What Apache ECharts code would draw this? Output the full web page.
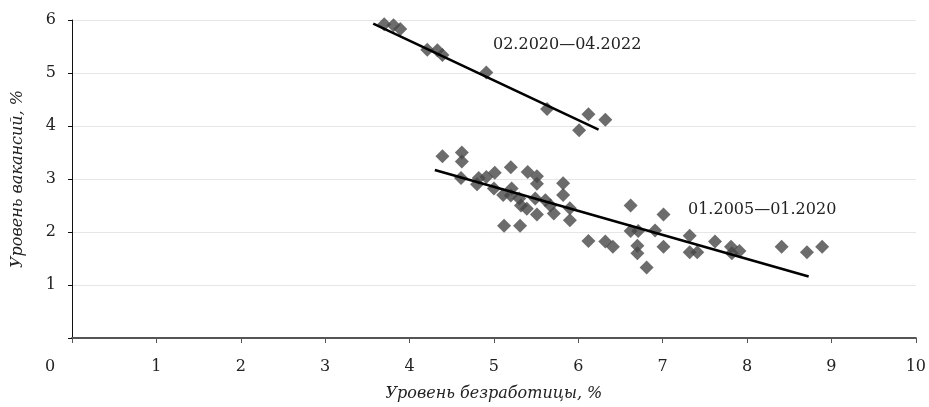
<!DOCTYPE html>
<html>
<head>
<meta charset="utf-8">
<script src="https://cdn.jsdelivr.net/npm/echarts@6/dist/echarts.min.js"></script>
<style>
  html, body { margin: 0; padding: 0; background: #fff; }
  #chart { width: 929px; height: 407px; }
</style>
</head>
<body>
<div id="chart"></div>
<script>
// 01.2005 - 01.2020: unemployment (x) and vacancy (y) rates, %
const unemp0520 = [4.39, 4.62, 4.62, 4.61, 4.82, 4.80, 4.91, 5.01, 5.00, 5.20, 5.11, 5.21, 5.20,
  5.40, 5.51, 5.51, 5.30, 5.32, 5.39, 5.51, 5.49, 5.61, 5.67, 5.71, 5.82, 5.82, 5.90, 5.90,
  5.12, 5.31, 6.12, 6.32, 6.41, 6.62, 6.62, 6.71, 6.70, 6.70, 6.81, 7.01, 6.91, 7.01,
  7.32, 7.32, 7.41, 7.62, 7.81, 7.82, 7.91, 8.41, 8.71, 8.89];
const vac0520 = [3.43, 3.50, 3.33, 3.02, 3.02, 2.90, 3.04, 3.12, 2.82, 3.22, 2.70, 2.82, 2.69,
  3.13, 3.05, 2.91, 2.63, 2.50, 2.44, 2.33, 2.63, 2.60, 2.50, 2.35, 2.92, 2.70, 2.45, 2.22,
  2.12, 2.12, 1.83, 1.82, 1.72, 2.50, 2.02, 2.02, 1.74, 1.60, 1.33, 2.33, 2.03, 1.72,
  1.93, 1.62, 1.62, 1.82, 1.72, 1.60, 1.64, 1.72, 1.62, 1.72];

// 02.2020 - 04.2022
const unemp2022 = [3.70, 3.81, 3.89, 4.21, 4.33, 4.39, 4.91, 5.63, 6.12, 6.01, 6.32];
const vac2022 = [5.92, 5.90, 5.83, 5.44, 5.43, 5.34, 5.01, 4.32, 4.22, 3.92, 4.12];

// trend line end points
const trend0520X = [4.30, 8.73];
const trend0520Y = [3.17, 1.16];
const trend2022X = [3.57, 6.24];
const trend2022Y = [5.93, 3.93];

const label0520 = '01.2005—01.2020';
const label2022 = '02.2020—04.2022';
const xName = 'Уровень безработицы, %';
const yName = 'Уровень вакансий, %';

const zip = (xs, ys) => xs.map((x, i) => [x, ys[i]]);
const font = '"DejaVu Serif", "Liberation Serif", serif';
const markColor = '#474747';

const chart = echarts.init(document.getElementById('chart'));
chart.setOption({
  animation: false,
  backgroundColor: '#fff',
  textStyle: { fontFamily: font, color: '#222' },
  grid: { left: 72, right: 13, top: 20, bottom: 67 },
  xAxis: {
    type: 'value', min: 0, max: 10, interval: 1,
    name: xName, nameLocation: 'middle', nameGap: 48,
    nameTextStyle: { fontFamily: font, fontStyle: 'italic', fontSize: 16, color: '#222' },
    axisLine: { show: true, lineStyle: { color: '#555', width: 2 } },
    axisTick: { show: true, length: 5, lineStyle: { color: '#555' } },
    axisLabel: {
      margin: 21, fontSize: 16, color: '#222', fontFamily: font,
      formatter: v => (v === 0 ? '{z|0}' : String(v)),
      rich: { z: { fontSize: 16, fontFamily: font, color: '#222', padding: [0, 44, 0, 0] } }
    },
    splitLine: { show: false }
  },
  yAxis: {
    type: 'value', min: 0, max: 6, interval: 1,
    name: yName, nameLocation: 'middle', nameGap: 46, nameRotate: 90,
    nameTextStyle: { fontFamily: font, fontStyle: 'italic', fontSize: 16, color: '#222' },
    axisLine: { show: true, lineStyle: { color: '#111', width: 1 } },
    axisTick: { show: true, length: 4, lineStyle: { color: '#111' } },
    axisLabel: {
      margin: 16, fontSize: 16, color: '#222', fontFamily: font,
      formatter: v => (v === 0 ? '' : String(v))
    },
    splitLine: { show: true, lineStyle: { color: '#e6e6e6', width: 1 } }
  },
  series: [
    {
      type: 'scatter', data: zip(unemp0520, vac0520),
      symbol: 'diamond', symbolSize: 14, itemStyle: { color: markColor }
    },
    {
      type: 'scatter', data: zip(unemp2022, vac2022),
      symbol: 'diamond', symbolSize: 14, itemStyle: { color: markColor }
    },
    {
      type: 'line', data: zip(trend0520X, trend0520Y), symbol: 'none',
      lineStyle: { color: '#000', width: 2.5 }, z: 3
    },
    {
      type: 'line', data: zip(trend2022X, trend2022Y), symbol: 'none',
      lineStyle: { color: '#000', width: 2.5 }, z: 3
    }
  ],
  graphic: [
    { type: 'text', left: 493, top: 37, style: { text: label2022, font: '16px ' + font, fill: '#222' } },
    { type: 'text', left: 688, top: 202, style: { text: label0520, font: '16px ' + font, fill: '#222' } }
  ]
});
</script>
</body>
</html>
